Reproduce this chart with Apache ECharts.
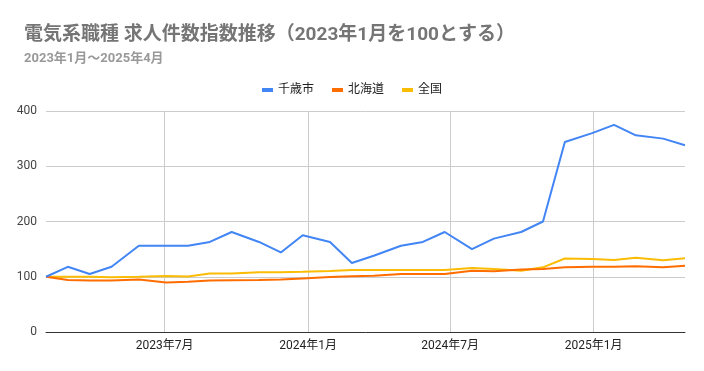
<!DOCTYPE html>
<html>
<head>
<meta charset="utf-8">
<script src="https://cdn.jsdelivr.net/npm/echarts@6/dist/echarts.min.js"></script>
<style>
html,body{margin:0;padding:0;background:#fff;}
#chart{width:704px;height:371px;}
</style>
</head>
<body>
<div id="chart"></div>
<script>
const titleText = '電気系職種 求人件数指数推移（2023年1月を100とする）';
const subtitleText = '2023年1月～2025年4月';
const seriesNames = ['千歳市', '北海道', '全国'];
const dates = ['2023-01-30','2023-02-27','2023-03-27','2023-04-24','2023-05-29','2023-07-03','2023-07-31','2023-08-28','2023-09-25','2023-10-30','2023-11-27','2023-12-25','2024-01-29','2024-02-26','2024-03-25','2024-04-29','2024-05-27','2024-06-24','2024-07-29','2024-08-26','2024-09-30','2024-10-28','2024-11-25','2024-12-30','2025-01-27','2025-02-24','2025-03-31','2025-04-28'];
const chitose = [100,118,105,118,156,156,156,163,181,163,144,175,163,125,138,156,163,181,150,169,181,200,344,360,375,356,350,338];
const hokkaido = [100,94,93,93,95,89.5,91,93,93.5,94,95,97,99.5,101,102,105,105,105,111,110,113,114,117,118,118,119,117,120];
const zenkoku = [100,100,100,99,100,101.5,100.5,106,106,108,108,109,110.5,112,112,112,112,112,116,114,111,117,133,132,130.5,134.5,130,133.5];
const xTickDates = ['2023-07-01','2024-01-01','2024-07-01','2025-01-01'];
const yTicks = [0,100,200,300,400];
const colors = ['#4285F4','#FF6D01','#FBBC04'];

function toTs(s){ const p=s.split('-').map(Number); return Date.UTC(p[0],p[1]-1,p[2]); }
const tickTs = xTickDates.map(toTs);
function pairs(vals){ return dates.map((d,i)=>[toTs(d), vals[i]]); }

const chart = echarts.init(document.getElementById('chart'));
chart.setOption({
  animation:false,
  backgroundColor:'#fff',
  color: colors,
  title:{
    text:titleText, subtext:subtitleText, left:19, top:21, itemGap:7,
    textStyle:{fontFamily:'Roboto, "Noto Sans CJK JP", sans-serif', fontSize:19, fontWeight:'bold', color:'#757575'},
    subtextStyle:{fontFamily:'Roboto, "Noto Sans CJK JP", sans-serif', fontSize:13, fontWeight:'bold', color:'#999999'}
  },
  legend:{
    data:seriesNames, top:79, left:'center', icon:'rect', itemWidth:11, itemHeight:4, itemGap:18,
    textStyle:{fontFamily:'Roboto, "Noto Sans CJK JP", sans-serif', fontSize:12, color:'#222'}
  },
  grid:{left:46, right:19, top:111, bottom:39, containLabel:false},
  xAxis:{
    type:'value', min:toTs(dates[0]), max:toTs(dates[dates.length-1]),
    axisLine:{show:true, lineStyle:{color:'#333', width:1}},
    axisTick:{show:false, customValues:tickTs},
    splitLine:{show:true, lineStyle:{color:'#cccccc', width:1}},
    axisLabel:{customValues:tickTs, color:'#222', fontSize:12, margin:8,
      fontFamily:'Roboto, "Noto Sans CJK JP", sans-serif',
      formatter:function(v){const d=new Date(v); return d.getUTCFullYear()+'年'+(d.getUTCMonth()+1)+'月';}}
  },
  yAxis:{
    type:'value', min:yTicks[0], max:yTicks[yTicks.length-1], interval:100,
    axisLine:{show:false}, axisTick:{show:false},
    splitLine:{lineStyle:{color:'#cccccc', width:1}},
    axisLabel:{color:'#444', fontSize:12, margin:9, fontFamily:'Roboto, sans-serif'}
  },
  series:[
    {name:seriesNames[0], type:'line', data:pairs(chitose), showSymbol:false, lineStyle:{width:2}, z:3},
    {name:seriesNames[1], type:'line', data:pairs(hokkaido), showSymbol:false, lineStyle:{width:2}, z:2},
    {name:seriesNames[2], type:'line', data:pairs(zenkoku), showSymbol:false, lineStyle:{width:2}, z:1}
  ]
});
</script>
</body>
</html>
